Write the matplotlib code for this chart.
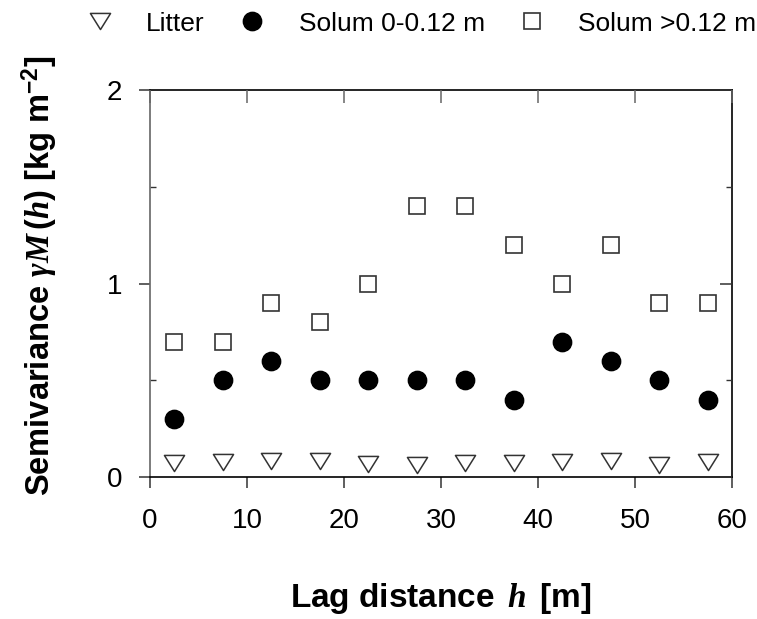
import matplotlib
matplotlib.use("Agg")
import matplotlib.pyplot as plt
from matplotlib.lines import Line2D
from matplotlib.path import Path
from matplotlib.ticker import MultipleLocator

# Lag classes (m) and semivariance per layer (kg m^-2)
lag = [2.5, 7.5, 12.5, 17.5, 22.5, 27.5, 32.5, 37.5, 42.5, 47.5, 52.5, 57.5]
litter = [0.07, 0.075, 0.085, 0.085, 0.065, 0.06, 0.07, 0.07, 0.08, 0.085, 0.06, 0.08]
solum_top = [0.3, 0.5, 0.6, 0.5, 0.5, 0.5, 0.5, 0.4, 0.7, 0.6, 0.5, 0.4]
solum_deep = [0.7, 0.7, 0.9, 0.8, 1.0, 1.4, 1.4, 1.2, 1.0, 1.2, 0.9, 0.9]
labels = ["Litter", "Solum 0-0.12 m", "Solum >0.12 m"]
xticks = [0, 10, 20, 30, 40, 50, 60]
yticks = [0, 1, 2]

plt.rcParams["font.family"] = ["Liberation Sans", "DejaVu Sans"]
plt.rcParams["mathtext.fontset"] = "custom"
plt.rcParams["mathtext.it"] = "Liberation Serif:italic:bold"
plt.rcParams["mathtext.rm"] = "Liberation Sans:bold"
plt.rcParams["mathtext.bf"] = "Liberation Sans:bold"

fig = plt.figure(figsize=(7.57, 6.19), dpi=100)
ax = fig.add_axes([0.198, 0.2294, 0.769, 0.6252])

# Wide, slightly flattened down-pointing triangle
tri = Path([(-1, 0.8), (1, 0.8), (0, -0.8), (-1, 0.8)], closed=True)
tri_style = dict(marker=tri, ms=14.5, mfc="white", mec="#333333", mew=1.1)
dot_style = dict(marker="o", ms=13.2, mfc="black", mec="black")
sq_style = dict(marker="s", ms=12.2, mfc="white", mec="#333333", mew=1.2)

ax.plot(lag, litter, linestyle="none", clip_on=False, **tri_style)
ax.plot(lag, solum_top, linestyle="none", clip_on=False, **dot_style)
ax.plot(lag, solum_deep, linestyle="none", clip_on=False, **sq_style)

ax.set_xlim(0, 60)
ax.set_ylim(0, 2)
ax.set_xticks(xticks)
ax.set_yticks(yticks)
ax.yaxis.set_minor_locator(MultipleLocator(0.5))
ax.tick_params(axis="both", which="major", direction="out", length=8,
               width=1.1, labelsize=20, color="#333333")
ax.tick_params(axis="y", pad=12)
ax.tick_params(axis="x", pad=14)
ax.tick_params(axis="y", which="minor", direction="in", length=4, width=1.0,
               color="#333333")
for side, sp in ax.spines.items():
    sp.set_linewidth(1.2)
    sp.set_color("black")
ax.spines["left"].set_color("#666666")

# Inward ticks on the right and top frame
axr = ax.twinx()
axr.set_ylim(0, 2)
axr.set_yticks(yticks)
axr.yaxis.set_minor_locator(MultipleLocator(0.5))
axr.tick_params(axis="y", which="major", direction="in", length=9, width=1.1,
                labelright=False, color="#333333")
axr.tick_params(axis="y", which="minor", direction="in", length=4, width=1.0,
                color="#333333")
axt = ax.twiny()
axt.set_xlim(0, 60)
axt.set_xticks(xticks)
axt.tick_params(axis="x", which="major", direction="in", length=9, width=1.1,
                labeltop=False, color="#666666")
for a in (axr, axt):
    for sp in a.spines.values():
        sp.set_visible(False)

ax.set_xlabel(r"Lag distance $\,h\,$ [m]", fontsize=24, fontweight="bold",
              labelpad=34)
ax.set_ylabel(r"Semivariance $\gamma M\,(h)$ [kg m$^{\mathbf{-2}}$]",
              fontsize=23.5, fontweight="bold", labelpad=34)
ax.yaxis.set_label_coords(-0.155, 0.52)

handles = [Line2D([], [], linestyle="none", **s)
           for s in (tri_style, dot_style, sq_style)]
fig.legend(handles, labels, loc="center", bbox_to_anchor=(0.557, 0.962),
           ncol=3, frameon=False, fontsize=19, handlelength=1.0,
           handletextpad=1.25, columnspacing=1.3, borderaxespad=0)

fig.savefig("out.png", dpi=100)
